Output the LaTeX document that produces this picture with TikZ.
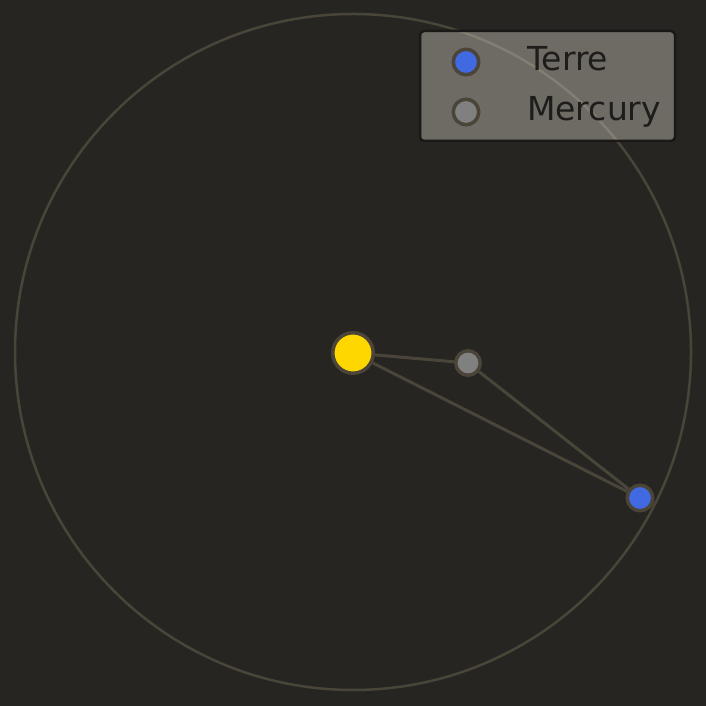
\documentclass[tikz,border=0pt]{standalone}
\usepackage{fontspec}
\setmainfont{DejaVu Sans}
\usepackage{xcolor}
\definecolor{bgdark}{HTML}{262522}
\definecolor{orbitline}{HTML}{4A4539}
\definecolor{ringdark}{HTML}{4A4439}
\definecolor{sunyellow}{HTML}{FFD700}
\definecolor{mercurygray}{HTML}{808080}
\definecolor{earthblue}{HTML}{4169E1}
\definecolor{legendedge}{HTML}{1A1917}
\definecolor{legendfill}{HTML}{DAD3C8}
\definecolor{legendtext}{HTML}{1E1D1B}

\begin{document}
\begin{tikzpicture}[
  x=1pt, y=1pt,
  body/.style={circle, draw=ringdark, line width=3.5pt, inner sep=0pt},
  link/.style={draw=orbitline, line width=3pt},
  lbl/.style={anchor=base west, inner sep=0pt, text=legendtext,
              font=\fontsize{33}{40}\selectfont}
]
  % Background
  \fill[bgdark] (0,0) rectangle (706,706);
  \useasboundingbox (0,0) rectangle (706,706);

  % Orbit
  \draw[orbitline, line width=2.5pt] (353,354) circle (338);

  % Bodies
  \node[body, fill=sunyellow, minimum size=40.5pt] (sun)     at (353,353) {};
  \node[body, fill=mercurygray, minimum size=24.5pt] (mercury) at (468,343) {};
  \node[body, fill=earthblue, minimum size=25.5pt] (earth)   at (640,208) {};

  % Connectors
  \draw[link] (sun) -- (mercury);
  \draw[link] (sun) -- (earth);
  \draw[link] (mercury) -- (earth);

  % Legend
  \draw[legendedge, line width=2.5pt, fill=legendfill, fill opacity=0.4, rounded corners=4pt]
    (420,565) rectangle (675,675);
  \node[body, fill=earthblue, minimum size=25.5pt]   (keyearth)   at (466,644) {};
  \node[body, fill=mercurygray, minimum size=25.5pt] (keymercury) at (466,594) {};
  \node[lbl] (txtearth)   at (527,635) {Terre};
  \node[lbl] (txtmercury) at (527,585) {Mercury};
\end{tikzpicture}
\end{document}
